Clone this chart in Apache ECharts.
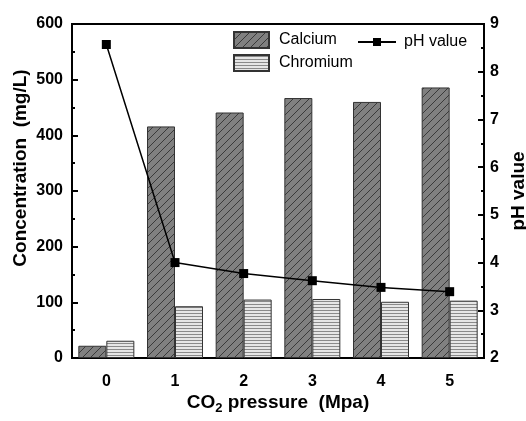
<!DOCTYPE html>
<html>
<head>
<meta charset="utf-8">
<script src="https://cdn.jsdelivr.net/npm/echarts@6/dist/echarts.min.js"></script>
<style>
  html, body { margin: 0; padding: 0; background: #fff; }
  #chart { width: 526px; height: 421px; }
</style>
</head>
<body>
<div id="chart"></div>
<script>
const pressures = ['0', '1', '2', '3', '4', '5'];
const calcium = [22, 416, 441, 467, 460, 486];
const chromium = [31, 93, 105, 106, 101, 103];
const phValue = [8.57, 4.0, 3.77, 3.62, 3.48, 3.39];

const chart = echarts.init(document.getElementById('chart'));

// diagonal hatch for calcium
const hatch = document.createElement('canvas');
hatch.width = 8;
hatch.height = 8;
let ctx = hatch.getContext('2d');
ctx.fillStyle = '#808080';
ctx.fillRect(0, 0, 8, 8);
ctx.strokeStyle = '#3a3a3a';
ctx.lineWidth = 1;
ctx.beginPath();
ctx.moveTo(0, 8); ctx.lineTo(8, 0);
ctx.moveTo(-4, 4); ctx.lineTo(4, -4);
ctx.moveTo(4, 12); ctx.lineTo(12, 4);
ctx.stroke();

// horizontal stripes for chromium
const stripe = document.createElement('canvas');
stripe.width = 4;
stripe.height = 3;
ctx = stripe.getContext('2d');
ctx.fillStyle = '#e6e6e6';
ctx.fillRect(0, 0, 4, 3);
ctx.fillStyle = '#8a8a8a';
ctx.fillRect(0, 1, 4, 1);

const font = 'Liberation Sans, Arial, sans-serif';

const option = {
    backgroundColor: '#fff',
    animation: false,
    grid: {
        left: 72, right: 42, top: 24, bottom: 63,
        outerBoundsMode: 'none',
        show: true, borderColor: '#000', borderWidth: 2,
        backgroundColor: 'transparent'
    },
    legend: [
        {
            data: ['Calcium', 'Chromium'],
            orient: 'vertical',
            icon: 'rect',
            left: 228, top: 26,
            itemWidth: 35, itemHeight: 16, itemGap: 5,
            textStyle: { fontFamily: font, fontSize: 16, color: '#000', padding: [0, 0, 0, 5] }
        },
        {
            data: ['pH value'],
            left: 352, top: 29,
            itemWidth: 38, itemHeight: 10,
            textStyle: { fontFamily: font, fontSize: 16, color: '#000', padding: [0, 0, 0, 3] }
        }
    ],
    xAxis: {
        type: 'category',
        data: pressures,
        axisLine: { lineStyle: { color: '#000', width: 2 } },
        axisTick: { alignWithLabel: true, length: 6, lineStyle: { color: '#000', width: 2 } },
        axisLabel: { fontFamily: font, fontSize: 16, fontWeight: 'bold', color: '#000', margin: 16 },
        name: '{a|CO}{s|2}{a| pressure  (Mpa)}',
        nameLocation: 'middle',
        nameMoveOverlap: false,
        nameGap: 34,
        nameTextStyle: {
            rich: {
                a: { fontFamily: font, fontSize: 19, fontWeight: 'bold', color: '#000', lineHeight: 22 },
                s: { fontFamily: font, fontSize: 13, fontWeight: 'bold', color: '#000', lineHeight: 22, padding: [10, 0, 0, 0] }
            }
        }
    },
    yAxis: [
        {
            type: 'value',
            min: 0, max: 600, interval: 100,
            splitLine: { show: false },
            axisLine: { show: true, lineStyle: { color: '#000', width: 2 } },
            axisTick: { show: true, inside: true, length: 6, lineStyle: { color: '#000', width: 2 } },
            minorTick: { show: true, splitNumber: 2, length: 3, lineStyle: { color: '#000', width: 2 } },
            axisLabel: { fontFamily: font, fontSize: 16, fontWeight: 'bold', color: '#000', margin: 9 },
            name: 'Concentration  (mg/L)',
            nameLocation: 'middle',
            nameMoveOverlap: false,
            nameGap: 42,
            nameTextStyle: { fontFamily: font, fontSize: 19, fontWeight: 'bold', color: '#000', padding: [0, 0, 0, 46] }
        },
        {
            type: 'value',
            min: 2, max: 9, interval: 1,
            splitLine: { show: false },
            axisLine: { show: true, lineStyle: { color: '#000', width: 2 } },
            axisTick: { show: true, inside: true, length: 6, lineStyle: { color: '#000', width: 2 } },
            minorTick: { show: true, splitNumber: 2, length: 3, lineStyle: { color: '#000', width: 2 } },
            axisLabel: { fontFamily: font, fontSize: 16, fontWeight: 'bold', color: '#000', margin: 6 },
            name: 'pH value',
            nameLocation: 'middle',
            nameRotate: 90,
            nameMoveOverlap: false,
            nameGap: 25,
            nameTextStyle: { fontFamily: font, fontSize: 19, fontWeight: 'bold', color: '#000' }
        }
    ],
    series: [
        {
            name: 'Calcium',
            type: 'bar',
            data: calcium,
            barWidth: 28,
            barGap: '0%',
            itemStyle: {
                color: { image: hatch, repeat: 'repeat' },
                borderColor: '#333',
                borderWidth: 1
            }
        },
        {
            name: 'Chromium',
            type: 'bar',
            data: chromium,
            barWidth: 28,
            barGap: '0%',
            itemStyle: {
                color: { image: stripe, repeat: 'repeat' },
                borderColor: '#333',
                borderWidth: 1
            }
        },
        {
            name: 'pH value',
            type: 'line',
            yAxisIndex: 1,
            data: phValue,
            symbol: 'rect',
            symbolSize: 9,
            lineStyle: { color: '#000', width: 1.5 },
            itemStyle: { color: '#000' }
        }
    ]
};

chart.setOption(option);
</script>
</body>
</html>
